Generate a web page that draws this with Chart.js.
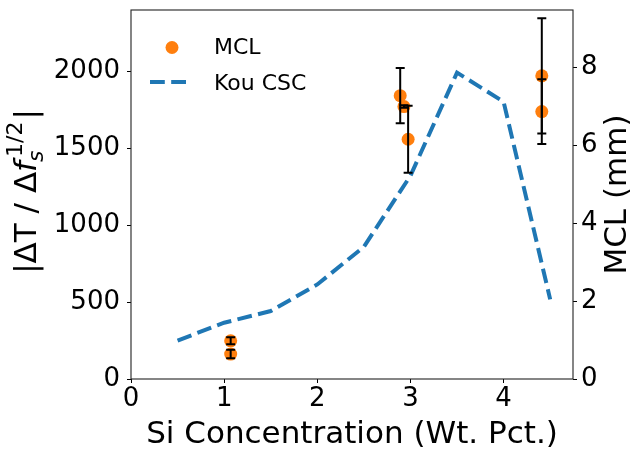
<!DOCTYPE html>
<html>
<head>
<meta charset="utf-8">
<script src="https://cdn.jsdelivr.net/npm/chart.js@4/dist/chart.umd.min.js"></script>
<style>
  html, body { margin: 0; padding: 0; background: #ffffff; }
  #wrap { width: 632px; height: 453px; }
</style>
</head>
<body>
<div id="wrap"><canvas id="c" width="632" height="453"></canvas></div>
<script>
// Kou cracking-susceptibility coefficient vs. Si content (left axis)
const cscSi = [0.5, 1.0, 1.5, 2.0, 2.5, 3.0, 3.5, 4.0, 4.5];
const cscValues = [250, 366, 442, 615, 860, 1322, 1993, 1803, 518];

// Measured maximum crack length (right axis, mm) with standard deviations
const mclSi = [1.07, 1.07, 2.89, 2.93, 2.975, 4.41, 4.41];
const mclMm = [0.98, 0.64, 7.28, 7.00, 6.16, 7.79, 6.87];
const mclErr = [0.09, 0.11, 0.71, 0.03, 0.86, 1.48, 0.83];

const xTicks = [0, 1, 2, 3, 4];
const yTicks = [0, 500, 1000, 1500, 2000];
const y2Ticks = [0, 2, 4, 6, 8];

const FONT = '"DejaVu Sans", "Liberation Sans", sans-serif';
const ORANGE = '#ff7f0e';
const BLUE = '#1f77b4';
const DASH = [14.8, 6.4];
const TITLE_PX = 31;

const tickStyle = {
  color: '#000',
  font: { family: FONT, size: 26 },
  padding: 4,
  callback: v => String(v)
};
const gridStyle = {
  drawOnChartArea: false,
  drawTicks: true,
  tickLength: 4,
  color: '#000',
  lineWidth: 1
};

function fixTicks(list) {
  return scale => { scale.ticks = list.map(v => ({ value: v })); };
}

// Frame, error bars, legend and axis titles
const decorations = {
  id: 'decorations',
  afterDatasetsDraw(chart) {
    const ctx = chart.ctx;
    const xs = chart.scales.x, ys = chart.scales.y2;
    ctx.save();
    ctx.strokeStyle = '#000';
    ctx.lineWidth = 2;
    for (let i = 0; i < mclSi.length; i++) {
      const px = xs.getPixelForValue(mclSi[i]);
      const top = ys.getPixelForValue(mclMm[i] + mclErr[i]);
      const bot = ys.getPixelForValue(mclMm[i] - mclErr[i]);
      ctx.beginPath();
      ctx.moveTo(px, top); ctx.lineTo(px, bot);
      ctx.moveTo(px - 4.5, top); ctx.lineTo(px + 4.5, top);
      ctx.moveTo(px - 4.5, bot); ctx.lineTo(px + 4.5, bot);
      ctx.stroke();
    }
    ctx.restore();
  },
  afterDraw(chart) {
    const ctx = chart.ctx;
    const a = chart.chartArea;
    ctx.save();

    // plot frame
    ctx.strokeStyle = '#222';
    ctx.lineWidth = 1.1;
    ctx.strokeRect(a.left, a.top, a.right - a.left, a.bottom - a.top);

    // legend
    const ds = chart.data.datasets;
    ctx.fillStyle = ORANGE;
    ctx.beginPath();
    ctx.arc(a.left + 41, a.top + 37.5, 6.5, 0, Math.PI * 2);
    ctx.fill();
    ctx.strokeStyle = BLUE;
    ctx.lineWidth = 4;
    ctx.setLineDash(DASH);
    ctx.beginPath();
    ctx.moveTo(a.left + 19, a.top + 72);
    ctx.lineTo(a.left + 59, a.top + 72);
    ctx.stroke();
    ctx.setLineDash([]);
    ctx.fillStyle = '#000';
    ctx.font = '22px ' + FONT;
    ctx.textAlign = 'left';
    ctx.textBaseline = 'alphabetic';
    ctx.fillText(ds[0].label, a.left + 83, a.top + 43.5);
    ctx.fillText(ds[1].label, a.left + 83, a.top + 80);

    // x title
    ctx.font = TITLE_PX + 'px ' + FONT;
    ctx.textAlign = 'center';
    ctx.fillText('Si Concentration (Wt. Pct.)', (a.left + a.right) / 2, 443);

    // right title
    ctx.save();
    ctx.translate(626, (a.top + a.bottom) / 2);
    ctx.rotate(-Math.PI / 2);
    ctx.fillText('MCL (mm)', 0, 0);
    ctx.restore();

    // left title: |ΔT / Δf_s^{1/2}|
    const sm = Math.round(TITLE_PX * 0.7);
    const big = TITLE_PX + 'px ' + FONT, bigIt = 'italic ' + TITLE_PX + 'px ' + FONT;
    const small = sm + 'px ' + FONT, smallIt = 'italic ' + sm + 'px ' + FONT;
    ctx.textAlign = 'left';
    ctx.font = big; const w1 = ctx.measureText('|ΔT / Δ').width;
    ctx.font = bigIt; const w2 = ctx.measureText('f').width;
    ctx.font = smallIt; const wSub = ctx.measureText('s').width;
    ctx.font = small; const wSup = ctx.measureText('1/2').width;
    ctx.font = big; const w3 = ctx.measureText('|').width;
    const subShift = -1, supShift = 4;
    const wScr = Math.max(wSub + subShift, wSup + supShift) + 2;
    const total = w1 + w2 + wScr + w3;
    ctx.save();
    ctx.translate(36, (a.top + a.bottom) / 2 - 3);
    ctx.rotate(-Math.PI / 2);
    let x = -total / 2;
    ctx.font = big; ctx.fillText('|ΔT / Δ', x, 0); x += w1;
    ctx.font = bigIt; ctx.fillText('f', x, 0); x += w2;
    ctx.font = smallIt; ctx.fillText('s', x + subShift, 7);
    ctx.font = small; ctx.fillText('1/2', x + supShift, -14);
    x += wScr;
    ctx.font = big; ctx.fillText('|', x, 0);
    ctx.restore();

    ctx.restore();
  }
};

new Chart(document.getElementById('c'), {
  data: {
    datasets: [
      {
        type: 'scatter',
        label: 'MCL',
        data: mclSi.map((s, i) => ({ x: s, y: mclMm[i] })),
        yAxisID: 'y2',
        backgroundColor: ORANGE,
        borderColor: ORANGE,
        borderWidth: 0,
        pointRadius: 6.5,
        pointHoverRadius: 6.5
      },
      {
        type: 'line',
        label: 'Kou CSC',
        data: cscSi.map((s, i) => ({ x: s, y: cscValues[i] })),
        yAxisID: 'y',
        borderColor: BLUE,
        borderWidth: 4,
        borderDash: DASH,
        borderCapStyle: 'butt',
        borderJoinStyle: 'miter',
        pointRadius: 0,
        fill: false,
        tension: 0
      }
    ]
  },
  options: {
    responsive: false,
    devicePixelRatio: 1,
    animation: false,
    events: [],
    layout: { padding: { top: 10, left: 0, right: 0, bottom: 0 } },
    plugins: { legend: { display: false }, tooltip: { enabled: false } },
    scales: {
      x: {
        type: 'linear',
        position: 'bottom',
        min: 0,
        max: 4.745,
        afterBuildTicks: fixTicks(xTicks),
        afterFit(s) { s.height = 74; s.paddingLeft = 0; s.paddingRight = 0; },
        ticks: Object.assign({}, tickStyle, { maxRotation: 0, padding: 1 }),
        grid: gridStyle,
        border: { display: false }
      },
      y: {
        type: 'linear',
        position: 'left',
        min: 0,
        max: 2400,
        afterBuildTicks: fixTicks(yTicks),
        afterFit(s) { s.width = 131; s.paddingTop = 0; s.paddingBottom = 0; },
        ticks: Object.assign({}, tickStyle, { padding: 7 }),
        grid: gridStyle,
        border: { display: false }
      },
      y2: {
        type: 'linear',
        position: 'right',
        min: 0,
        max: 9.48,
        afterBuildTicks: fixTicks(y2Ticks),
        afterFit(s) { s.width = 59; s.paddingTop = 0; s.paddingBottom = 0; },
        ticks: tickStyle,
        grid: gridStyle,
        border: { display: false }
      }
    }
  },
  plugins: [decorations]
});
</script>
</body>
</html>
